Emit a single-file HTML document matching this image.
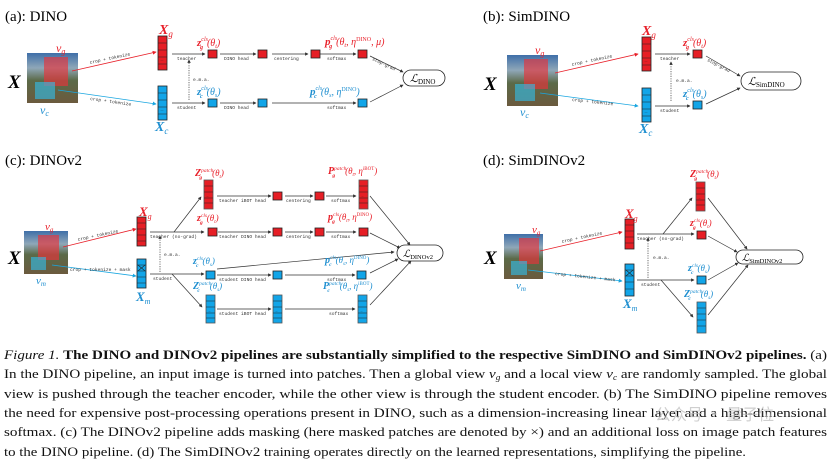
<!DOCTYPE html>
<html><head><meta charset="utf-8"><style>
html,body{margin:0;padding:0;background:#fff;}
svg{display:block;}
.t{font-family:"Liberation Serif",serif;}
.m{font-family:"Liberation Mono",monospace;font-size:4.6px;fill:#333;}
.r{fill:#e8202a;}
.b{fill:#1f8fd0;}
.mi{font-family:"Liberation Serif",serif;font-style:italic;}
</style></head><body>
<svg width="832" height="462" viewBox="0 0 832 462" xmlns="http://www.w3.org/2000/svg">
<defs>
<marker id="a" viewBox="0 0 6 6" refX="5" refY="3" markerWidth="5" markerHeight="5" orient="auto"><path d="M0,0L6,3L0,6z" fill="#333"/></marker>
<marker id="ar" viewBox="0 0 6 6" refX="5" refY="3" markerWidth="5" markerHeight="5" orient="auto"><path d="M0,0L6,3L0,6z" fill="#e8202a"/></marker>
<marker id="ab" viewBox="0 0 6 6" refX="5" refY="3" markerWidth="5" markerHeight="5" orient="auto"><path d="M0,0L6,3L0,6z" fill="#1aa6e0"/></marker>
<linearGradient id="img" x1="0" y1="0" x2="0" y2="1">
<stop offset="0" stop-color="#3f6fa8"/><stop offset="0.3" stop-color="#8fa7b8"/><stop offset="0.55" stop-color="#5b6a48"/><stop offset="1" stop-color="#6b5a3e"/></linearGradient>
<g id="sqr"><rect width="9" height="8" fill="#e61e25" stroke="#222" stroke-width="0.8"/></g>
<g id="sqb"><rect width="9" height="8" fill="#12a5e8" stroke="#222" stroke-width="0.8"/></g>
<g id="colr"><rect width="9" height="34" fill="#e61e25" stroke="#222" stroke-width="0.8"/><path d="M0,7H9M0,14H9M0,21H9M0,28H9" stroke="#222" stroke-width="0.6"/><text x="2.5" y="25" font-size="4" fill="#222">...</text></g>
<g id="colb"><rect width="9" height="34" fill="#12a5e8" stroke="#222" stroke-width="0.8"/><path d="M0,7H9M0,14H9M0,21H9M0,28H9" stroke="#222" stroke-width="0.6"/><text x="2.5" y="25" font-size="4" fill="#222">...</text></g>
<g id="pr"><rect width="9" height="29" fill="#e61e25" stroke="#555" stroke-width="0.8"/><path d="M0,6H9M0,12H9M0,18H9M0,23H9" stroke="#222" stroke-width="0.6"/><text x="2.5" y="17" font-size="4" fill="#222">..</text></g>
<g id="pb"><rect width="9" height="28" fill="#12a5e8" stroke="#555" stroke-width="0.8"/><path d="M0,6H9M0,12H9M0,18H9M0,23H9" stroke="#222" stroke-width="0.6"/><text x="2.5" y="17" font-size="4" fill="#222">..</text></g>
</defs>

<!-- ================= (a) DINO ================= -->
<text x="5" y="21" class="t" font-size="15">(a): DINO</text>
<text x="8" y="88" class="mi" font-size="19" font-weight="bold">X</text>
<rect x="27" y="53" width="51" height="50" fill="url(#img)"/>
<rect x="44" y="57" width="24" height="29" fill="#e8333a" opacity="0.65"/>
<rect x="35" y="82" width="20" height="17" fill="#30c0ee" opacity="0.6"/>
<text x="56" y="52" class="mi r" font-size="12">v<tspan font-size="8" dy="2">g</tspan></text>
<text x="40" y="114" class="mi b" font-size="12">v<tspan font-size="8" dy="2">c</tspan></text>
<line x1="72" y1="71" x2="156" y2="52" stroke="#e8202a" stroke-width="0.8" marker-end="url(#ar)"/>
<line x1="58" y1="90" x2="156" y2="104" stroke="#1aa6e0" stroke-width="0.8" marker-end="url(#ab)"/>
<text class="m" transform="translate(90,64) rotate(-12)">crop + tokenize</text>
<text class="m" transform="translate(90,100) rotate(8)">crop + tokenize</text>
<use href="#colr" x="158" y="36"/>
<use href="#colb" x="158" y="86"/>
<text x="159" y="34" class="mi r" font-size="14" font-weight="bold">X<tspan font-size="9" font-weight="normal" dy="3">g</tspan></text>
<text x="155" y="131" class="mi b" font-size="14" font-weight="bold">X<tspan font-size="9" font-weight="normal" dy="3">c</tspan></text>
<g stroke="#333" stroke-width="0.7" fill="none">
<line x1="172" y1="54" x2="205" y2="54" marker-end="url(#a)"/>
<line x1="220" y1="54" x2="256" y2="54" marker-end="url(#a)"/>
<line x1="272" y1="54" x2="308" y2="54" marker-end="url(#a)"/>
<line x1="320" y1="54" x2="356" y2="54" marker-end="url(#a)"/>
<line x1="172" y1="103" x2="205" y2="103" marker-end="url(#a)"/>
<line x1="220" y1="103" x2="256" y2="103" marker-end="url(#a)"/>
<line x1="272" y1="103" x2="356" y2="103" marker-end="url(#a)"/>
<line x1="370" y1="56" x2="403" y2="72" marker-end="url(#a)"/>
<line x1="370" y1="102" x2="403" y2="85" marker-end="url(#a)"/>
<line x1="189" y1="100" x2="189" y2="60" stroke-dasharray="1.2,1.2" marker-end="url(#a)"/>
</g>
<text x="177" y="60" class="m">teacher</text>
<text x="224" y="60" class="m">DINO head</text>
<text x="274" y="60" class="m">centering</text>
<text x="327" y="60" class="m">softmax</text>
<text x="177" y="109" class="m">student</text>
<text x="224" y="109" class="m">DINO head</text>
<text x="327" y="109" class="m">softmax</text>
<text x="193" y="81" class="m">e.m.a.</text>
<text class="m" transform="translate(372,60) rotate(25)">stop-grad</text>
<use href="#sqr" x="208" y="50"/><use href="#sqr" x="258" y="50"/><use href="#sqr" x="311" y="50"/><use href="#sqr" x="358" y="50"/>
<use href="#sqb" x="208" y="99"/><use href="#sqb" x="258" y="99"/><use href="#sqb" x="358" y="99"/>
<text x="197" y="46" class="mi r" font-size="11" font-weight="bold">z<tspan font-size="6" font-weight="normal" dy="-5">cls</tspan><tspan font-size="6" dx="-8" dy="8">g</tspan><tspan font-size="10" font-weight="normal" dx="4" dy="-3">(θ<tspan font-size="6" dy="2">t</tspan><tspan dy="-2">)</tspan></tspan></text>
<text x="325" y="45" class="mi r" font-size="11" font-weight="bold">p<tspan font-size="6" font-weight="normal" dy="-5">cls</tspan><tspan font-size="6" dx="-8" dy="8">g</tspan><tspan font-size="10" font-weight="normal" dx="4" dy="-3">(θ<tspan font-size="6" dy="2">t</tspan><tspan dy="-2">, η</tspan><tspan font-size="6" dy="-4" font-style="normal">DINO</tspan><tspan dy="4">, μ)</tspan></tspan></text>
<text x="197" y="95" class="mi b" font-size="11" font-weight="bold">z<tspan font-size="6" font-weight="normal" dy="-5">cls</tspan><tspan font-size="6" dx="-8" dy="8">c</tspan><tspan font-size="10" font-weight="normal" dx="4" dy="-3">(θ<tspan font-size="6" dy="2">s</tspan><tspan dy="-2">)</tspan></tspan></text>
<text x="310" y="95" class="mi b" font-size="11" font-weight="bold">p<tspan font-size="6" font-weight="normal" dy="-5">cls</tspan><tspan font-size="6" dx="-8" dy="8">c</tspan><tspan font-size="10" font-weight="normal" dx="4" dy="-3">(θ<tspan font-size="6" dy="2">s</tspan><tspan dy="-2">, η</tspan><tspan font-size="6" dy="-4" font-style="normal">DINO</tspan><tspan dy="4">)</tspan></tspan></text>
<rect x="403" y="70" width="42" height="16" rx="8" fill="#fff" stroke="#222" stroke-width="0.8"/>
<text x="410" y="82" class="mi" font-size="11">ℒ<tspan font-size="7" font-style="normal" dy="2">DINO</tspan></text>

<!-- ================= (b) SimDINO ================= -->
<text x="483" y="21" class="t" font-size="15">(b): SimDINO</text>
<text x="484" y="90" class="mi" font-size="19" font-weight="bold">X</text>
<rect x="507" y="55" width="51" height="51" fill="url(#img)"/>
<rect x="524" y="59" width="24" height="30" fill="#e8333a" opacity="0.65"/>
<rect x="515" y="84" width="20" height="17" fill="#30c0ee" opacity="0.6"/>
<text x="535" y="54" class="mi r" font-size="12">v<tspan font-size="8" dy="2">g</tspan></text>
<text x="520" y="116" class="mi b" font-size="12">v<tspan font-size="8" dy="2">c</tspan></text>
<line x1="555" y1="73" x2="638" y2="54" stroke="#e8202a" stroke-width="0.8" marker-end="url(#ar)"/>
<line x1="540" y1="93" x2="638" y2="106" stroke="#1aa6e0" stroke-width="0.8" marker-end="url(#ab)"/>
<text class="m" transform="translate(572,66) rotate(-12)">crop + tokenize</text>
<text class="m" transform="translate(572,101) rotate(6)">crop + tokenize</text>
<use href="#colr" x="642" y="37"/>
<use href="#colb" x="642" y="88"/>
<text x="642" y="35" class="mi r" font-size="14" font-weight="bold">X<tspan font-size="9" font-weight="normal" dy="3">g</tspan></text>
<text x="639" y="133" class="mi b" font-size="14" font-weight="bold">X<tspan font-size="9" font-weight="normal" dy="3">c</tspan></text>
<g stroke="#333" stroke-width="0.7" fill="none">
<line x1="655" y1="54" x2="690" y2="54" marker-end="url(#a)"/>
<line x1="655" y1="106" x2="690" y2="106" marker-end="url(#a)"/>
<line x1="706" y1="56" x2="740" y2="76" marker-end="url(#a)"/>
<line x1="706" y1="104" x2="740" y2="88" marker-end="url(#a)"/>
<line x1="671" y1="101" x2="671" y2="62" stroke-dasharray="1.2,1.2" marker-end="url(#a)"/>
</g>
<text x="660" y="60" class="m">teacher</text>
<text x="660" y="112" class="m">student</text>
<text x="676" y="82" class="m">e.m.a.</text>
<text class="m" transform="translate(707,61) rotate(27)">stop-grad</text>
<use href="#sqr" x="693" y="50"/><use href="#sqb" x="693" y="101"/>
<text x="683" y="46" class="mi r" font-size="11" font-weight="bold">z<tspan font-size="6" font-weight="normal" dy="-5">cls</tspan><tspan font-size="6" dx="-8" dy="8">g</tspan><tspan font-size="10" font-weight="normal" dx="4" dy="-3">(θ<tspan font-size="6" dy="2">t</tspan><tspan dy="-2">)</tspan></tspan></text>
<text x="683" y="97" class="mi b" font-size="11" font-weight="bold">z<tspan font-size="6" font-weight="normal" dy="-5">cls</tspan><tspan font-size="6" dx="-8" dy="8">c</tspan><tspan font-size="10" font-weight="normal" dx="4" dy="-3">(θ<tspan font-size="6" dy="2">s</tspan><tspan dy="-2">)</tspan></tspan></text>
<rect x="741" y="72" width="60" height="18" rx="9" fill="#fff" stroke="#222" stroke-width="0.8"/>
<text x="748" y="85" class="mi" font-size="11">ℒ<tspan font-size="7" font-style="normal" dy="2">SimDINO</tspan></text>

<!-- ================= (c) DINOv2 ================= -->
<text x="5" y="165" class="t" font-size="15">(c): DINOv2</text>
<text x="8" y="264" class="mi" font-size="19" font-weight="bold">X</text>
<rect x="24" y="231" width="44" height="43" fill="url(#img)"/>
<rect x="38" y="235" width="21" height="25" fill="#e8333a" opacity="0.65"/>
<rect x="31" y="257" width="15" height="13" fill="#30c0ee" opacity="0.6"/>
<text x="45" y="230" class="mi r" font-size="11">v<tspan font-size="7" dy="2">g</tspan></text>
<text x="36" y="284" class="mi b" font-size="11">v<tspan font-size="7" dy="2">m</tspan></text>
<line x1="63" y1="247" x2="136" y2="229" stroke="#e8202a" stroke-width="0.8" marker-end="url(#ar)"/>
<line x1="52" y1="265" x2="136" y2="276" stroke="#1aa6e0" stroke-width="0.8" marker-end="url(#ab)"/>
<text class="m" transform="translate(78,241) rotate(-12)">crop + tokenize</text>
<text class="m" transform="translate(70,271)">crop + tokenize + mask</text>
<g><rect x="137" y="217" width="9" height="29" fill="#e61e25" stroke="#222" stroke-width="0.8"/><path d="M137,223H146M137,229H146M137,235H146M137,241H146" stroke="#222" stroke-width="0.6"/></g>
<g><rect x="137" y="259" width="9" height="29" fill="#12a5e8" stroke="#222" stroke-width="0.8"/><path d="M137,265H146M137,271H146M137,277H146M137,283H146M138,265L145,271M145,265L138,271" stroke="#222" stroke-width="0.6"/></g>
<text x="139" y="216" class="mi r" font-size="13" font-weight="bold">X<tspan font-size="8" font-weight="normal" dy="3">g</tspan></text>
<text x="136" y="301" class="mi b" font-size="13" font-weight="bold">X<tspan font-size="8" font-weight="normal" dy="3">m</tspan></text>
<g stroke="#333" stroke-width="0.7" fill="none">
<line x1="150" y1="232" x2="204" y2="232" marker-end="url(#a)"/>
<line x1="174" y1="232" x2="201" y2="197" marker-end="url(#a)"/>
<line x1="150" y1="274" x2="204" y2="274" marker-end="url(#a)"/>
<line x1="172" y1="274" x2="202" y2="307" marker-end="url(#a)"/>
<line x1="160" y1="272" x2="160" y2="236" stroke-dasharray="1.2,1.2" marker-end="url(#a)"/>
<line x1="217" y1="196" x2="271" y2="196" marker-end="url(#a)"/>
<line x1="285" y1="196" x2="313" y2="196" marker-end="url(#a)"/>
<line x1="326" y1="196" x2="356" y2="196" marker-end="url(#a)"/>
<line x1="218" y1="232" x2="271" y2="232" marker-end="url(#a)"/>
<line x1="285" y1="232" x2="313" y2="232" marker-end="url(#a)"/>
<line x1="326" y1="232" x2="356" y2="232" marker-end="url(#a)"/>
<line x1="217" y1="275" x2="271" y2="275" marker-end="url(#a)"/>
<line x1="285" y1="275" x2="355" y2="275" marker-end="url(#a)"/>
<line x1="217" y1="269" x2="394" y2="252" marker-end="url(#a)"/>
<line x1="217" y1="309" x2="271" y2="309" marker-end="url(#a)"/>
<line x1="285" y1="309" x2="355" y2="309" marker-end="url(#a)"/>
<line x1="370" y1="196" x2="410" y2="245" marker-end="url(#a)"/>
<line x1="370" y1="233" x2="400" y2="248" marker-end="url(#a)"/>
<line x1="370" y1="273" x2="398" y2="259" marker-end="url(#a)"/>
<line x1="370" y1="305" x2="411" y2="261" marker-end="url(#a)"/>
</g>
<text x="150" y="238" class="m">teacher (no-grad)</text>
<text x="153" y="280" class="m">student</text>
<text x="164" y="256" class="m">e.m.a.</text>
<text x="219" y="202" class="m">teacher iBOT head</text>
<text x="286" y="202" class="m">centering</text>
<text x="331" y="202" class="m">softmax</text>
<text x="219" y="238" class="m">teacher DINO head</text>
<text x="286" y="238" class="m">centering</text>
<text x="331" y="238" class="m">softmax</text>
<text x="219" y="281" class="m">student DINO head</text>
<text x="327" y="281" class="m">softmax</text>
<text x="219" y="315" class="m">student iBOT head</text>
<text x="329" y="315" class="m">softmax</text>
<use href="#pr" x="204" y="180"/><use href="#sqr" x="273" y="192"/><use href="#sqr" x="315" y="192"/><use href="#pr" x="359" y="180"/>
<use href="#sqr" x="208" y="228"/><use href="#sqr" x="273" y="228"/><use href="#sqr" x="315" y="228"/><use href="#sqr" x="359" y="228"/>
<use href="#sqb" x="206" y="271"/><use href="#sqb" x="273" y="271"/><use href="#sqb" x="357" y="271"/>
<use href="#pb" x="206" y="295"/><use href="#pb" x="273" y="295"/><use href="#pb" x="358" y="295"/>
<text x="195" y="176" class="mi r" font-size="10" font-weight="bold">Z<tspan font-size="5.5" font-weight="normal" dy="-4">patch</tspan><tspan font-size="5.5" dx="-14" dy="7">g</tspan><tspan font-size="9" font-weight="normal" dx="10" dy="-3">(θ<tspan font-size="5" dy="2">t</tspan><tspan dy="-2">)</tspan></tspan></text>
<text x="328" y="174" class="mi r" font-size="10" font-weight="bold">P<tspan font-size="5.5" font-weight="normal" dy="-4">patch</tspan><tspan font-size="5.5" dx="-14" dy="7">g</tspan><tspan font-size="9" font-weight="normal" dx="10" dy="-3">(θ<tspan font-size="5" dy="2">t</tspan><tspan dy="-2">, η</tspan><tspan font-size="5" dy="-4" font-style="normal">iBOT</tspan><tspan dy="4">)</tspan></tspan></text>
<text x="197" y="221" class="mi r" font-size="10" font-weight="bold">z<tspan font-size="5.5" font-weight="normal" dy="-4">cls</tspan><tspan font-size="5.5" dx="-7" dy="7">g</tspan><tspan font-size="9" font-weight="normal" dx="4" dy="-3">(θ<tspan font-size="5" dy="2">t</tspan><tspan dy="-2">)</tspan></tspan></text>
<text x="328" y="220" class="mi r" font-size="10" font-weight="bold">p<tspan font-size="5.5" font-weight="normal" dy="-4">cls</tspan><tspan font-size="5.5" dx="-7" dy="7">g</tspan><tspan font-size="9" font-weight="normal" dx="4" dy="-3">(θ<tspan font-size="5" dy="2">t</tspan><tspan dy="-2">, η</tspan><tspan font-size="5" dy="-4" font-style="normal">DINO</tspan><tspan dy="4">)</tspan></tspan></text>
<text x="193" y="264" class="mi b" font-size="10" font-weight="bold">z<tspan font-size="5.5" font-weight="normal" dy="-4">cls</tspan><tspan font-size="5.5" dx="-7" dy="7">c</tspan><tspan font-size="9" font-weight="normal" dx="4" dy="-3">(θ<tspan font-size="5" dy="2">s</tspan><tspan dy="-2">)</tspan></tspan></text>
<text x="325" y="263" class="mi b" font-size="10" font-weight="bold">p<tspan font-size="5.5" font-weight="normal" dy="-4">cls</tspan><tspan font-size="5.5" dx="-7" dy="7">c</tspan><tspan font-size="9" font-weight="normal" dx="4" dy="-3">(θ<tspan font-size="5" dy="2">s</tspan><tspan dy="-2">, η</tspan><tspan font-size="5" dy="-4" font-style="normal">DINO</tspan><tspan dy="4">)</tspan></tspan></text>
<text x="193" y="289" class="mi b" font-size="10" font-weight="bold">Z<tspan font-size="5.5" font-weight="normal" dy="-4">patch</tspan><tspan font-size="5.5" dx="-14" dy="7">c</tspan><tspan font-size="9" font-weight="normal" dx="10" dy="-3">(θ<tspan font-size="5" dy="2">s</tspan><tspan dy="-2">)</tspan></tspan></text>
<text x="323" y="289" class="mi b" font-size="10" font-weight="bold">P<tspan font-size="5.5" font-weight="normal" dy="-4">patch</tspan><tspan font-size="5.5" dx="-14" dy="7">c</tspan><tspan font-size="9" font-weight="normal" dx="10" dy="-3">(θ<tspan font-size="5" dy="2">s</tspan><tspan dy="-2">, η</tspan><tspan font-size="5" dy="-4" font-style="normal">iBOT</tspan><tspan dy="4">)</tspan></tspan></text>
<rect x="397" y="245" width="46" height="16" rx="8" fill="#fff" stroke="#222" stroke-width="0.8"/>
<text x="403" y="257" class="mi" font-size="10">ℒ<tspan font-size="6.5" font-style="normal" dy="2">DINOv2</tspan></text>

<!-- ================= (d) SimDINOv2 ================= -->
<text x="483" y="165" class="t" font-size="15">(d): SimDINOv2</text>
<text x="484" y="264" class="mi" font-size="19" font-weight="bold">X</text>
<rect x="504" y="234" width="39" height="45" fill="url(#img)"/>
<rect x="519" y="238" width="20" height="26" fill="#e8333a" opacity="0.65"/>
<rect x="511" y="261" width="16" height="14" fill="#30c0ee" opacity="0.6"/>
<text x="532" y="233" class="mi r" font-size="11">v<tspan font-size="7" dy="2">g</tspan></text>
<text x="516" y="289" class="mi b" font-size="11">v<tspan font-size="7" dy="2">m</tspan></text>
<line x1="540" y1="251" x2="622" y2="232" stroke="#e8202a" stroke-width="0.8" marker-end="url(#ar)"/>
<line x1="528" y1="270" x2="622" y2="281" stroke="#1aa6e0" stroke-width="0.8" marker-end="url(#ab)"/>
<text class="m" transform="translate(562,243) rotate(-12)">crop + tokenize</text>
<text class="m" transform="translate(555,275) rotate(6)">crop + tokenize + mask</text>
<g><rect x="625" y="219" width="9" height="30" fill="#e61e25" stroke="#222" stroke-width="0.8"/><path d="M625,225H634M625,231H634M625,237H634M625,243H634" stroke="#222" stroke-width="0.6"/></g>
<g><rect x="625" y="264" width="9" height="32" fill="#12a5e8" stroke="#222" stroke-width="0.8"/><path d="M625,270H634M625,276H634M625,282H634M625,289H634M626,270L633,276M633,270L626,276" stroke="#222" stroke-width="0.6"/></g>
<text x="625" y="218" class="mi r" font-size="13" font-weight="bold">X<tspan font-size="8" font-weight="normal" dy="3">g</tspan></text>
<text x="623" y="308" class="mi b" font-size="13" font-weight="bold">X<tspan font-size="8" font-weight="normal" dy="3">m</tspan></text>
<g stroke="#333" stroke-width="0.7" fill="none">
<line x1="637" y1="234" x2="694" y2="234" marker-end="url(#a)"/>
<line x1="663" y1="234" x2="692" y2="198" marker-end="url(#a)"/>
<line x1="637" y1="280" x2="694" y2="280" marker-end="url(#a)"/>
<line x1="661" y1="280" x2="693" y2="317" marker-end="url(#a)"/>
<line x1="648" y1="278" x2="648" y2="238" stroke-dasharray="1.2,1.2" marker-end="url(#a)"/>
<line x1="708" y1="198" x2="747" y2="249" marker-end="url(#a)"/>
<line x1="708" y1="236" x2="737" y2="252" marker-end="url(#a)"/>
<line x1="708" y1="280" x2="738" y2="263" marker-end="url(#a)"/>
<line x1="708" y1="315" x2="748" y2="265" marker-end="url(#a)"/>
</g>
<text x="637" y="240" class="m">teacher (no-grad)</text>
<text x="641" y="286" class="m">student</text>
<text x="653" y="259" class="m">e.m.a.</text>
<use href="#pr" x="696" y="182"/><use href="#sqr" x="697" y="231"/><use href="#sqb" x="697" y="276"/>
<g><rect x="697" y="302" width="9" height="31" fill="#12a5e8" stroke="#555" stroke-width="0.8"/><path d="M697,308H706M697,314H706M697,320H706M697,326H706" stroke="#222" stroke-width="0.6"/></g>
<text x="690" y="177" class="mi r" font-size="10" font-weight="bold">Z<tspan font-size="5.5" font-weight="normal" dy="-4">patch</tspan><tspan font-size="5.5" dx="-14" dy="7">g</tspan><tspan font-size="9" font-weight="normal" dx="10" dy="-3">(θ<tspan font-size="5" dy="2">t</tspan><tspan dy="-2">)</tspan></tspan></text>
<text x="690" y="226" class="mi r" font-size="10" font-weight="bold">z<tspan font-size="5.5" font-weight="normal" dy="-4">cls</tspan><tspan font-size="5.5" dx="-7" dy="7">g</tspan><tspan font-size="9" font-weight="normal" dx="4" dy="-3">(θ<tspan font-size="5" dy="2">t</tspan><tspan dy="-2">)</tspan></tspan></text>
<text x="688" y="271" class="mi b" font-size="10" font-weight="bold">z<tspan font-size="5.5" font-weight="normal" dy="-4">cls</tspan><tspan font-size="5.5" dx="-7" dy="7">c</tspan><tspan font-size="9" font-weight="normal" dx="4" dy="-3">(θ<tspan font-size="5" dy="2">s</tspan><tspan dy="-2">)</tspan></tspan></text>
<text x="684" y="297" class="mi b" font-size="10" font-weight="bold">Z<tspan font-size="5.5" font-weight="normal" dy="-4">patch</tspan><tspan font-size="5.5" dx="-14" dy="7">c</tspan><tspan font-size="9" font-weight="normal" dx="10" dy="-3">(θ<tspan font-size="5" dy="2">s</tspan><tspan dy="-2">)</tspan></tspan></text>
<rect x="736" y="250" width="67" height="14" rx="7" fill="#fff" stroke="#222" stroke-width="0.8"/>
<text x="742" y="261" class="mi" font-size="10">ℒ<tspan font-size="6.5" font-style="normal" dy="2">SimDINOv2</tspan></text>

<!-- ================= caption ================= -->
<g class="t" font-size="13" fill="#111">
<text x="4" y="359" textLength="823" lengthAdjust="spacingAndGlyphs"><tspan font-style="italic">Figure 1.</tspan> <tspan font-weight="bold">The DINO and DINOv2 pipelines are substantially simplified to the respective SimDINO and SimDINOv2 pipelines.</tspan> (a)</text>
<text x="4" y="378" textLength="823" lengthAdjust="spacingAndGlyphs">In the DINO pipeline, an input image is turned into patches. Then a global view <tspan font-style="italic">v<tspan font-size="8" dy="2">g</tspan></tspan><tspan dy="-2"> and a local view </tspan><tspan font-style="italic">v<tspan font-size="8" dy="2">c</tspan></tspan><tspan dy="-2"> are randomly sampled. The global</tspan></text>
<text x="4" y="398" textLength="823" lengthAdjust="spacingAndGlyphs">view is pushed through the teacher encoder, while the other view is through the student encoder. (b) The SimDINO pipeline removes</text>
<text x="4" y="417" textLength="823" lengthAdjust="spacingAndGlyphs">the need for expensive post-processing operations present in DINO, such as a dimension-increasing linear layer and a high-dimensional</text>
<text x="4" y="436" textLength="823" lengthAdjust="spacingAndGlyphs">softmax. (c) The DINOv2 pipeline adds masking (here masked patches are denoted by ×) and an additional loss on image patch features</text>
<text x="4" y="456" textLength="742" lengthAdjust="spacingAndGlyphs">to the DINO pipeline. (d) The SimDINOv2 training operates directly on the learned representations, simplifying the pipeline.</text>
</g>
<text x="655" y="420" font-family="'Noto Sans CJK SC',sans-serif" font-size="16" fill="#bbb" opacity="0.7">公众号 · 量子位</text>
</svg>
</body></html>
